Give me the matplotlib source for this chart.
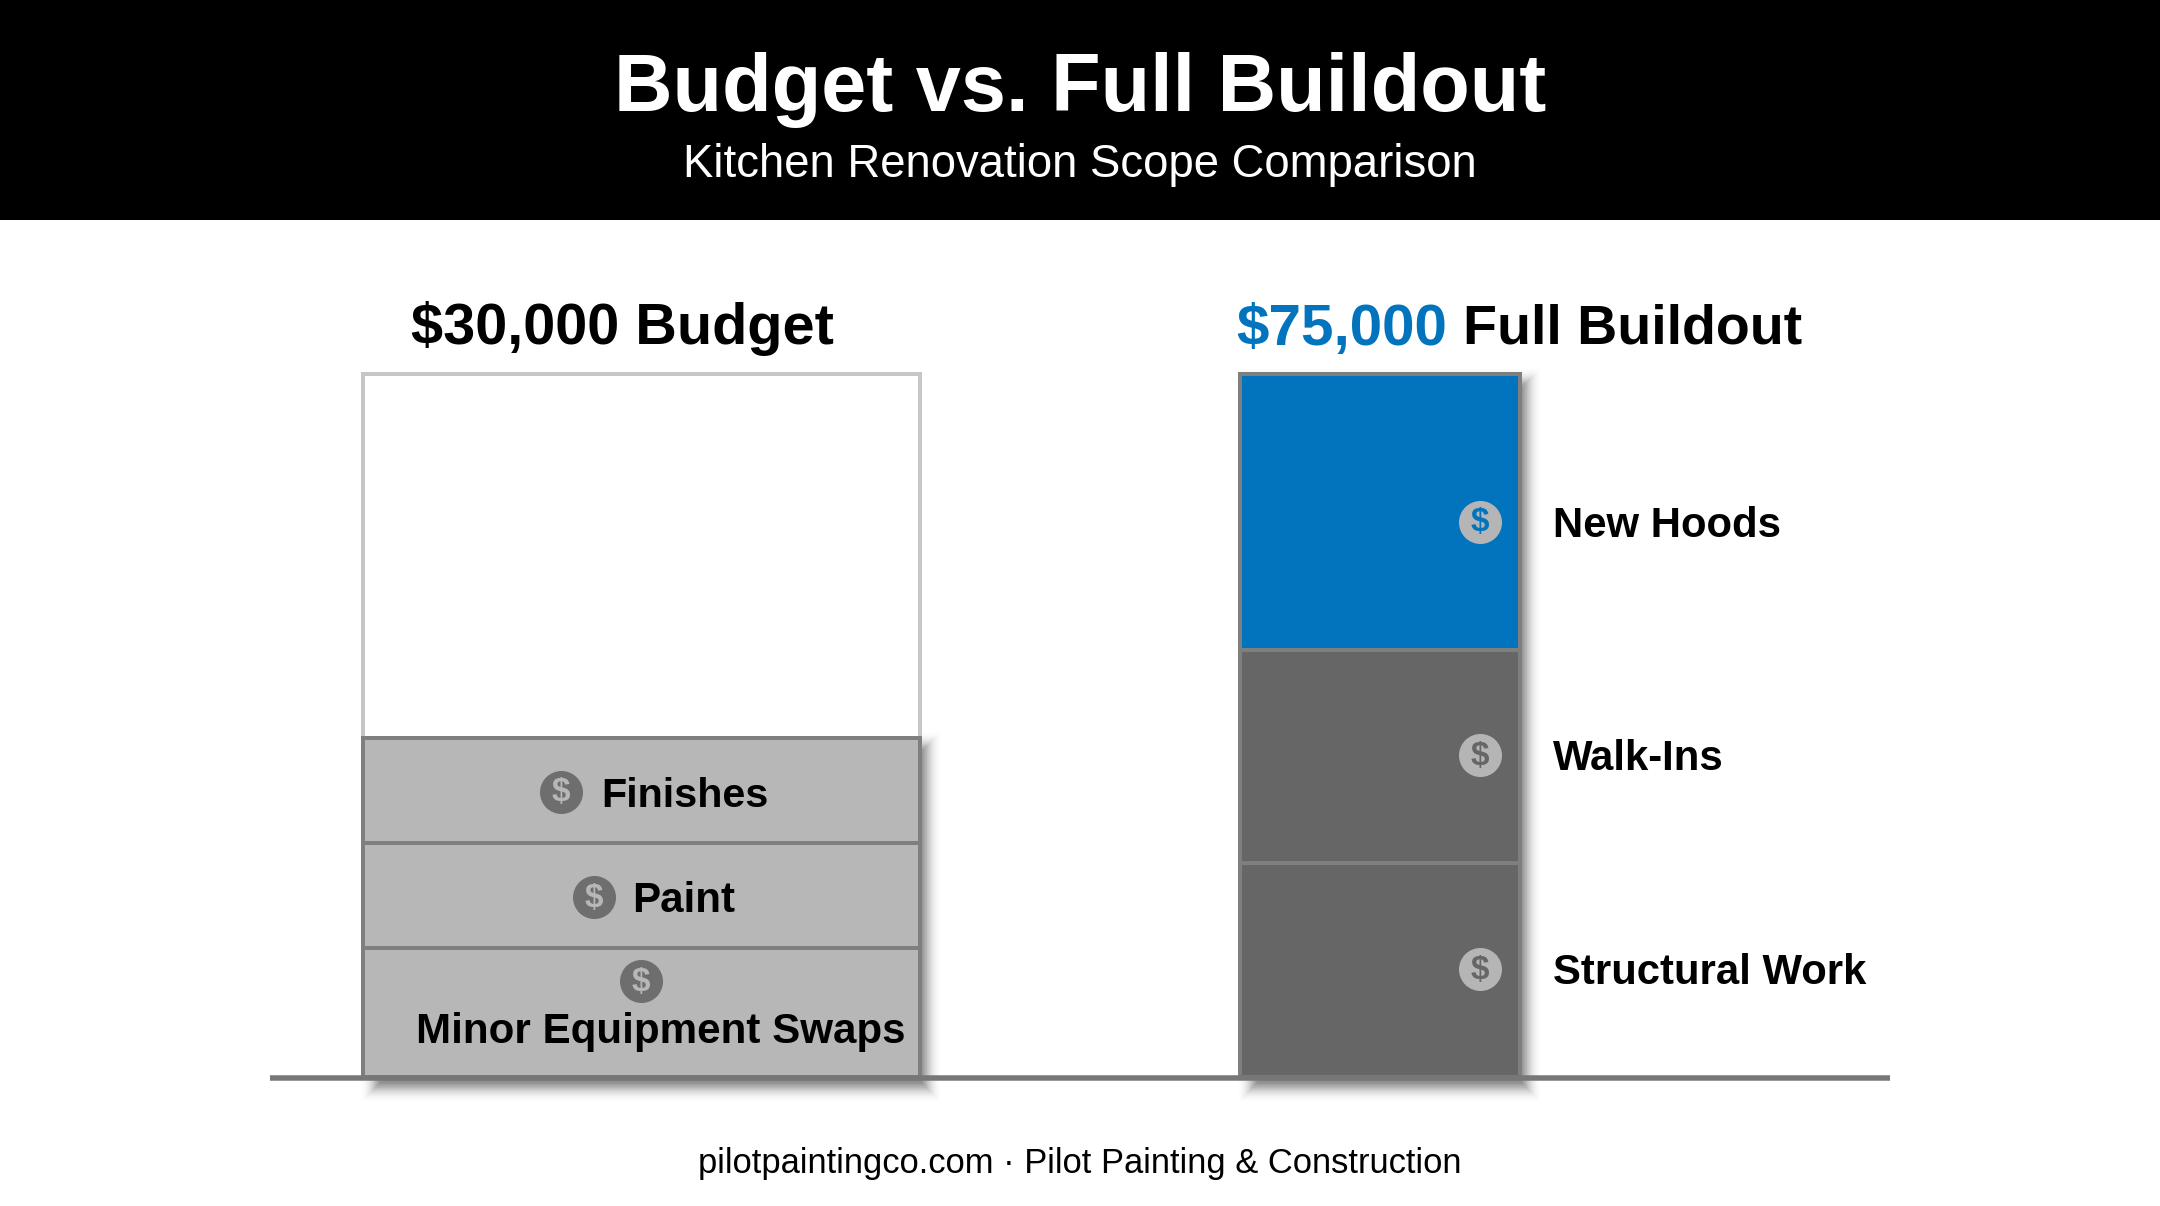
import matplotlib
matplotlib.use("Agg")
import matplotlib.pyplot as plt
from matplotlib.patches import Rectangle

# ---- data (share of column height, %) ----
title = "Budget vs. Full Buildout"
subtitle = "Kitchen Renovation Scope Comparison"
footer = "pilotpaintingco.com · Pilot Painting & Construction"
budget_labels = ["Minor Equipment Swaps", "Paint", "Finishes"]
budget_values = [18.4, 14.9, 14.9]
full_labels = ["Structural Work", "Walk-Ins", "New Hoods"]
full_values = [30.5, 30.3, 39.2]
budget_head = "$30,000 Budget"
full_head_amount = "$75,000"
full_head_rest = "Full Buildout"

W, H = 2160, 1206
BASE, TOP = 1077, 374
FONT = "Liberation Sans"
GREY_LIGHT, GREY_DARK, BLUE = "#b7b7b7", "#666666", "#0274bd"
EDGE = "#7f7f7f"

fig = plt.figure(figsize=(W / 100, H / 100), dpi=100, facecolor="white")
ax = fig.add_axes([0, 0, 1, 1])
unit = 100 / (BASE - TOP)
ax.set_xlim(0, W)
ax.set_ylim((BASE - H) * unit, BASE * unit)
ax.axis("off")
py = lambda p: (BASE - p) * unit
lw = 4 * 72 / 100


def txt(x, y_px, s, size, color="black", bold=True, ha="left", z=10):
    return ax.text(x, py(y_px), s, fontsize=size, color=color, family=FONT,
                   fontweight="bold" if bold else "normal", ha=ha, va="center",
                   zorder=z, parse_math=False)


def shadow(x0, x1, top, bottom=0):
    # soft drop shadow: stacked translucent rectangles with a tapered alpha
    spread = 18
    for g in range(-spread, spread + 1):
        a = 0.045 * (1 - abs(g) / (spread + 1)) ** 1.4
        left = x0 + 14 - g
        right = x1 + 5 + g
        low = bottom - (9 + g) * unit
        high = top - (10 - g) * unit
        ax.add_patch(Rectangle((left, low), right - left, high - low,
                               fc="black", ec="none", alpha=a, zorder=1))


def coin(x, y_px, face, glyph):
    ax.scatter([x], [py(y_px)], s=960, color=face, linewidths=0, zorder=8)
    txt(x, y_px + 1, "$", 24, color=glyph, ha="center", z=9)


# header band
ax.add_patch(Rectangle((0, py(220)), W, py(0) - py(220), fc="black", ec="none", zorder=5))
txt(W / 2, 90, title, 58.4, color="white", ha="center")
txt(W / 2, 165, subtitle, 32.8, color="white", bold=False, ha="center")

# left column
LX0, LX1 = 363, 920
LC, LW = (LX0 + LX1) / 2, LX1 - LX0
# right column
RX0, RX1 = 1240, 1520
RC, RW = (RX0 + RX1) / 2, RX1 - RX0

shadow(LX0, LX1, sum(budget_values))
shadow(RX0, RX1, sum(full_values))

ax.bar(LC, 100, LW, color="white", edgecolor="#c6c6c6", linewidth=lw, zorder=2)
bottom = 0
for v in budget_values:
    ax.bar(LC, v, LW, bottom=bottom, color=GREY_LIGHT, edgecolor=EDGE, linewidth=lw, zorder=3)
    bottom += v
bottom = 0
for v, c in zip(full_values, [GREY_DARK, GREY_DARK, BLUE]):
    ax.bar(RC, v, RW, bottom=bottom, color=c, edgecolor=EDGE, linewidth=lw, zorder=3)
    bottom += v

# baseline
ax.plot([270, 1890], [-0.1, -0.1], color="#777777", lw=5.5 * 72 / 100, zorder=4, solid_capstyle="butt")

# column headings
txt(411, 329, budget_head, 41.5)
txt(1236, 330, full_head_amount, 42, color=BLUE)
txt(1463, 330, full_head_rest, 40)

# left labels
COIN_L = "#6e6e6e"
coin(561, 792, COIN_L, GREY_LIGHT)
txt(601, 796, budget_labels[2], 29.7)
coin(594, 897, COIN_L, GREY_LIGHT)
txt(632, 901, budget_labels[1], 30.3)
coin(641, 981, COIN_L, GREY_LIGHT)
txt(416, 1032, budget_labels[0], 30.3)

# right labels
COIN_R = "#b5b5b5"
for lab, y, c in zip(full_labels, [969, 755, 522], [GREY_DARK, GREY_DARK, BLUE]):
    coin(1480, y, COIN_R, c)
    txt(1553, y + 4, lab, 30.2)

txt(W / 2, 1163, footer, 24.85, bold=False, ha="center")

fig.savefig("out.png", dpi=100, facecolor="white")
